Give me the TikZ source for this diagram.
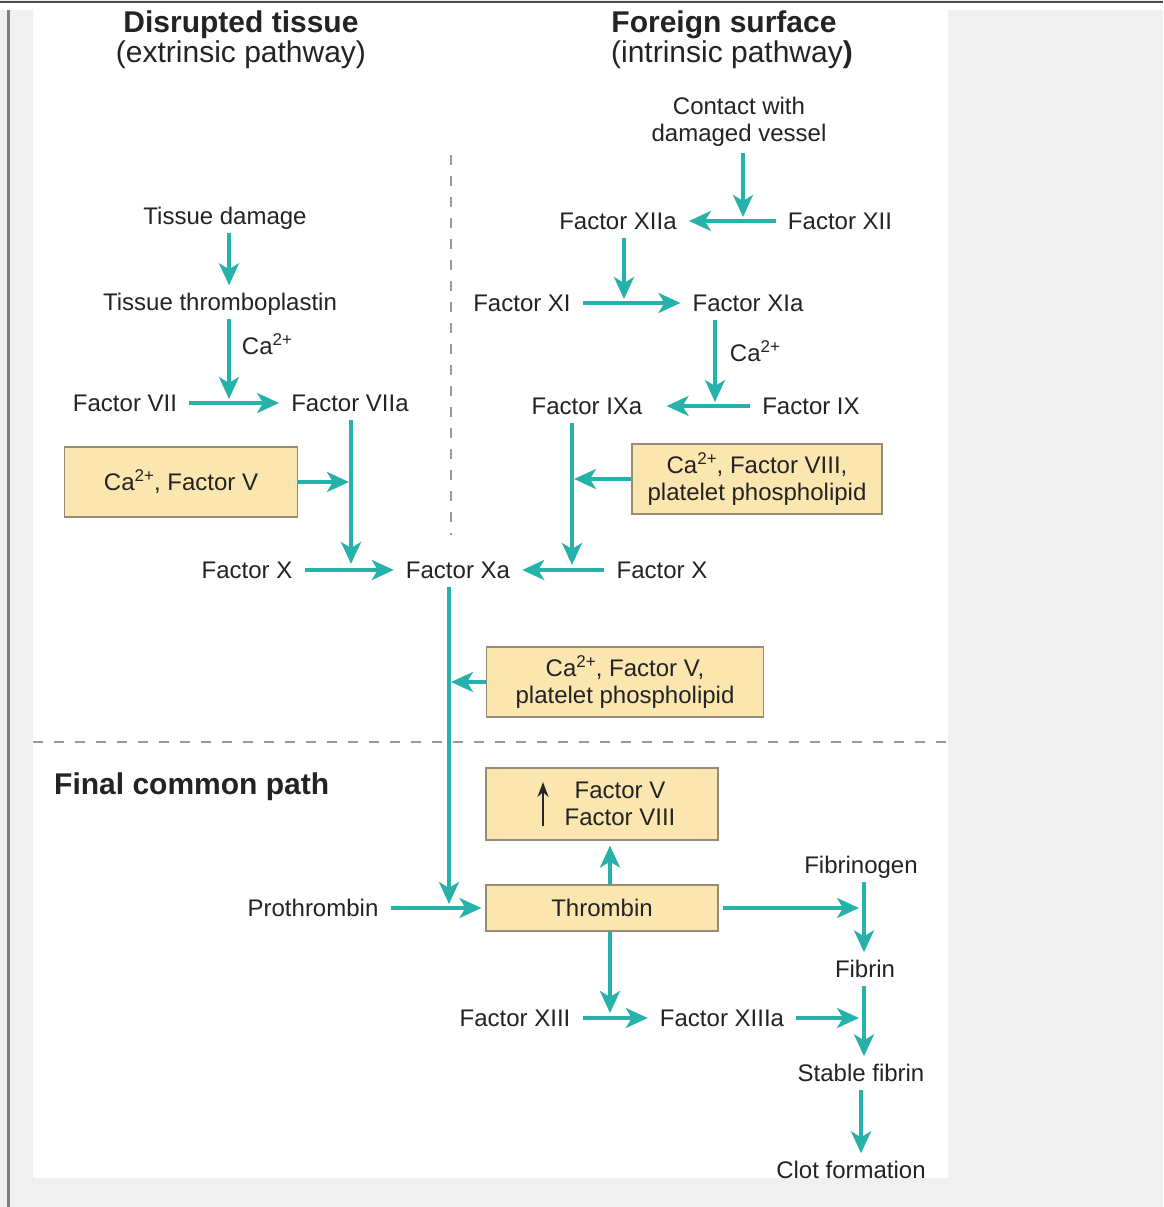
\documentclass[tikz,border=0pt]{standalone}
\usepackage{fontspec}
\setmainfont{Liberation Sans}
\usetikzlibrary{arrows.meta,positioning,calc}
\definecolor{flowcolor}{RGB}{38,178,170}
\definecolor{boxfill}{RGB}{252,230,176}
\definecolor{boxline}{RGB}{150,140,118}
\definecolor{txtcolor}{RGB}{35,35,35}
\definecolor{pagegrey}{RGB}{240,240,240}
\newcommand{\catwo}{Ca\raisebox{0.38em}{\fontsize{17}{17}\selectfont 2+}}

\begin{document}
\begin{tikzpicture}[x=1pt, y=-1pt,
  txt/.style={text=txtcolor, font=\fontsize{24}{27}\selectfont},
  lbl/.style={txt, inner xsep=12pt, inner ysep=8pt, text height=17pt, text depth=0pt},
  title/.style={text=txtcolor, font=\fontsize{30}{34}\selectfont\bfseries, inner sep=0pt},
  subtitle/.style={text=txtcolor, font=\fontsize{30}{34}\selectfont, inner sep=0pt},
  factorbox/.style={draw=boxline, line width=1.2pt, fill=boxfill, txt, align=center, inner sep=0pt},
  flow/.style={draw=flowcolor, line width=3.5pt, -{Stealth[length=22pt,width=20pt,inset=6pt]}},
  divider/.style={draw=black!40, line width=1.3pt, dash pattern=on 10pt off 11pt}
]

% ================= PAGE =================
\useasboundingbox (0,0) rectangle (1163,1207);
\fill[pagegrey] (0,0) rectangle (1163,1207);
\fill[white] (0,3) rectangle (1163,10);
\draw[black!70, line width=1.5pt] (0,2) -- (1163,2);
\draw[black!50, line width=2.5pt] (8.5,10) -- (8.5,1207);
\fill[white] (33,10) rectangle (948,1178);

% ================= TITLES =================
\node[title] (dtis) at (241,25) {Disrupted tissue};
\node[subtitle] (dext) at (241,55) {(extrinsic pathway)};
\node[title] (fsur) at (724,25) {Foreign surface};
\node[subtitle] (fint) at (732,55) {(intrinsic pathway\textbf{)}};

% dividers
\draw[divider] (451,155) -- (451,535);
\draw[divider] (33,742) -- (948,742);

% ================= INTRINSIC PATHWAY =================
\node[txt, align=center, inner sep=6pt] (cv) at (739,122) {Contact with\\damaged vessel};
\node[lbl] (f12a) at (618,221) {Factor XIIa};
\node[lbl] (f12) at (840,221) {Factor XII};
\coordinate (j12) at (743,217);
\draw[flow] (f12) -- (f12a);
\draw[flow] (cv.south -| j12) -- (j12);

\node[lbl] (f11) at (522,303) {Factor XI};
\node[lbl] (f11a) at (748,303) {Factor XIa};
\coordinate (j11) at (624,299);
\draw[flow] (f11) -- (f11a);
\draw[flow] (f12a.south -| j11) -- (j11);

\node[lbl] (f9a) at (587,406) {Factor IXa};
\node[lbl] (f9) at (811,406) {Factor IX};
\coordinate (j9) at (715,402);
\draw[flow, shorten >=12pt] (f9) -- (f9a);
\draw[flow] (f11a.south -| j9) -- (j9);
\node[txt] (ca9) at (755,351) {\catwo};

\node[factorbox, minimum width=250pt, minimum height=70pt] (b8) at (757,479)
  {\catwo, Factor VIII,\\platelet phospholipid};
\coordinate (jxr) at (572,565);
\draw[flow] (f9a.south -| jxr) -- (jxr);
\draw[flow, shorten >=2pt] (b8.west) -- (b8.west -| jxr);

% ================= EXTRINSIC PATHWAY =================
\node[lbl] (td) at (225,216) {Tissue damage};
\node[lbl] (tt) at (220,302) {Tissue thromboplastin};
\node[lbl] (f7) at (125,403) {Factor VII};
\node[lbl] (f7a) at (350,403) {Factor VIIa};
\coordinate (j7) at (229,399);
\draw[flow] (td.south -| j7) -- (tt.north -| j7);
\draw[flow] (tt.south -| j7) -- (j7);
\node[txt] (ca7) at (267,344) {\catwo};
\draw[flow] (f7) -- (f7a);

\node[factorbox, minimum width=233pt, minimum height=70pt] (b5) at (181,482)
  {\catwo, Factor V};
\coordinate (jxl) at (351,564);
\draw[flow] (f7a.south -| jxl) -- (jxl);
\draw[flow, shorten >=2pt] (b5.east) -- (b5.east -| jxl);

% ================= FACTOR X =================
\node[lbl] (fxl) at (247,570) {Factor X};
\node[lbl] (fxa) at (458,570) {Factor Xa};
\node[lbl] (fxr) at (662,570) {Factor X};
\draw[flow] (fxl) -- (fxa);
\draw[flow] (fxr) -- (fxa);

\node[factorbox, minimum width=277pt, minimum height=70pt] (bv) at (625,682)
  {\catwo, Factor V,\\platelet phospholipid};
\coordinate (jp) at (449,904);
\draw[flow] (fxa.south -| jp) -- (jp);
\draw[flow, shorten >=2pt] (bv.west) -- (bv.west -| jp);

% ================= FINAL COMMON PATH =================
\node[title, anchor=west] (fcp) at (54,787) {Final common path};

\node[lbl] (pro) at (313,908) {Prothrombin};
\node[factorbox, minimum width=232pt, minimum height=46pt] (thr) at (602,908) {Thrombin};
\node[factorbox, minimum width=232pt, minimum height=72pt] (b58) at (602,804) {};
\node[txt, align=center, inner sep=0pt] (b58t) at ($(b58.center)+(18,0)$) {Factor V\\Factor VIII};
\draw[black!85, line width=2pt, -{Stealth[length=15pt,width=11pt]}]
  ($(b58.center)+(-59,22)$) -- ($(b58.center)+(-59,-22)$);
\draw[flow, shorten >=4pt] (pro) -- (thr);
\draw[flow, shorten >=5pt] ([xshift=8pt]thr.north) -- ([xshift=8pt]b58.south);

\node[lbl] (fbg) at (861,865) {Fibrinogen};
\node[lbl] (fib) at (865,969) {Fibrin};
\coordinate (jf) at (864,908);
\draw[flow, shorten <=4pt, shorten >=5pt] (thr.east) -- (jf);
\draw[flow] (fbg.south -| jf) -- (fib.north -| jf);

\node[lbl] (f13) at (515,1018) {Factor XIII};
\node[lbl] (f13a) at (722,1018) {Factor XIIIa};
\coordinate (j13) at (610,1013);
\draw[flow] ([xshift=8pt]thr.south) -- (j13);
\draw[flow] (f13) -- (f13a);

\node[lbl] (sf) at (861,1073) {Stable fibrin};
\node[lbl] (clot) at (851,1170) {Clot formation};
\coordinate (js) at (864,1018);
\draw[flow, shorten >=5pt] (f13a) -- (js);
\draw[flow] (fib.south -| js) -- (sf.north -| js);
\draw[flow] (sf.south) -- (sf.south |- clot.north);

\end{tikzpicture}
\end{document}
